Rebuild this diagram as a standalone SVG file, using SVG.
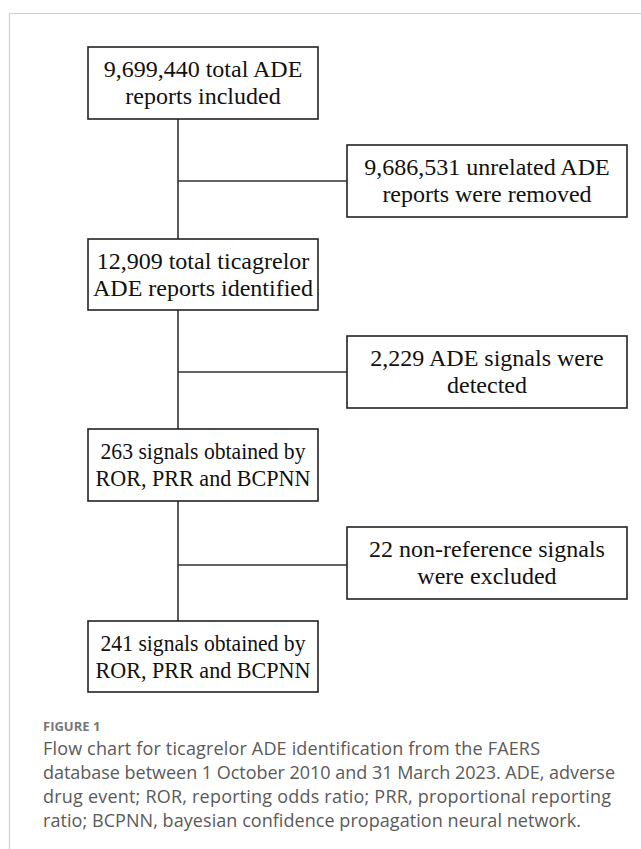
<svg xmlns="http://www.w3.org/2000/svg" width="641" height="849" viewBox="0 0 641 849">
<style>
.box{fill:#fff;stroke:#222;stroke-width:1.6}
.t{font-family:"Liberation Serif","Times New Roman",serif;font-size:24px;fill:#111;text-anchor:middle}
.conn{stroke:#333;stroke-width:1.6;fill:none}
.frame{stroke:#cfcfcf;stroke-width:1.2;fill:none}
.figl{font-family:"Open Sans","Noto Sans",sans-serif;font-size:13px;font-weight:bold;fill:#777}
.cap{font-family:"Open Sans","Noto Sans",sans-serif;font-size:18px;fill:#5a5a5a}
</style>
<rect width="641" height="849" fill="#fff"/>
<path class="frame" d="M9.5 849 V13.5 H641"/>
<g id="connectors">
<path class="conn" d="M178 119 V239 M178 310 V429 M178 501 V621"/>
<path class="conn" d="M178 181 H347 M178 372 H347 M178 565 H347"/>
</g>
<g id="n1"><rect class="box" x="88" y="47" width="230" height="72"/><text class="t" x="203" y="77">9,699,440 total ADE</text><text class="t" x="203" y="104">reports included</text></g>
<g id="n2"><rect class="box" x="347" y="145" width="280" height="72"/><text class="t" x="487" y="175">9,686,531 unrelated ADE</text><text class="t" x="487" y="202">reports were removed</text></g>
<g id="n3"><rect class="box" x="88" y="239" width="230" height="71"/><text class="t" x="203" y="269">12,909 total ticagrelor</text><text class="t" x="203" y="296">ADE reports identified</text></g>
<g id="n4"><rect class="box" x="347" y="336" width="280" height="72"/><text class="t" x="487" y="366">2,229 ADE signals were</text><text class="t" x="487" y="393">detected</text></g>
<g id="n5"><rect class="box" x="88" y="429" width="230" height="72"/><text class="t" x="203" y="459" textLength="205" lengthAdjust="spacingAndGlyphs">263 signals obtained by</text><text class="t" x="203" y="486" textLength="215" lengthAdjust="spacingAndGlyphs">ROR, PRR and BCPNN</text></g>
<g id="n6"><rect class="box" x="347" y="527" width="280" height="72"/><text class="t" x="487" y="557">22 non-reference signals</text><text class="t" x="487" y="584">were excluded</text></g>
<g id="n7"><rect class="box" x="88" y="621" width="230" height="71"/><text class="t" x="203" y="651" textLength="205" lengthAdjust="spacingAndGlyphs">241 signals obtained by</text><text class="t" x="203" y="678" textLength="215" lengthAdjust="spacingAndGlyphs">ROR, PRR and BCPNN</text></g>
<g id="caption">
<text class="figl" x="43" y="731">FIGURE 1</text>
<text class="cap" x="43" y="755" textLength="497">Flow chart for ticagrelor ADE identification from the FAERS</text>
<text class="cap" x="43" y="779" textLength="572">database between 1 October 2010 and 31 March 2023. ADE, adverse</text>
<text class="cap" x="43" y="803" textLength="568">drug event; ROR, reporting odds ratio; PRR, proportional reporting</text>
<text class="cap" x="43" y="827" textLength="538">ratio; BCPNN, bayesian confidence propagation neural network.</text>
</g>
</svg>
